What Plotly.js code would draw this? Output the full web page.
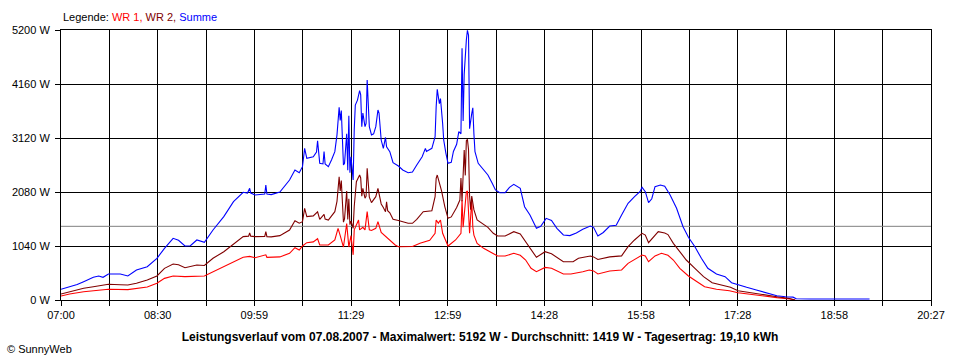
<!DOCTYPE html>
<html><head><meta charset="utf-8">
<script src="https://cdn.plot.ly/plotly-3.0.1.min.js"></script>
<style>html,body{margin:0;padding:0;background:#fff}#chart{width:960px;height:360px}</style>
</head><body><div id="chart"></div>
<script>
// ---- data ----
const xTickLabels = ['07:00','08:30','09:59','11:29','12:59','14:28','15:58','17:28','18:58','20:27'];
const yTickValues = [0,1040,2080,3120,4160,5200];
const averageW = 1419;

const timesSumme = ['07:00','07:08','07:15','07:21','07:30','07:35','07:39','07:44','07:50','07:55','08:02','08:10','08:20','08:29','08:36','08:44','08:49','08:55','09:00','09:06','09:13','09:21','09:31','09:40','09:49','09:53','09:55','09:56','10:00','10:09','10:10','10:11','10:15','10:23','10:32','10:37','10:41','10:44','10:46','10:48','10:54','10:57','10:58','11:00','11:03','11:04','11:05','11:08','11:11','11:14','11:16','11:18','11:19','11:20','11:22','11:23','11:25','11:26','11:27','11:28','11:29','11:31','11:32','11:33','11:35','11:37','11:38','11:39','11:40','11:42','11:43','11:44','11:46','11:48','11:50','11:52','11:54','11:55','11:57','11:59','12:01','12:02','12:05','12:08','12:13','12:17','12:22','12:26','12:30','12:35','12:38','12:39','12:44','12:47','12:48','12:49','12:51','12:52','12:54','12:55','12:57','12:58','12:59','13:02','13:04','13:07','13:09','13:11','13:12','13:13','13:14','13:16','13:17','13:18','13:19','13:21','13:22','13:23','13:24','13:27','13:32','13:36','13:40','13:43','13:47','13:52','13:56','14:00','14:06','14:10','14:15','14:21','14:25','14:30','14:35','14:40','14:46','14:52','14:58','15:04','15:11','15:14','15:18','15:23','15:29','15:35','15:40','15:46','15:52','15:57','15:59','16:02','16:05','16:08','16:11','16:16','16:20','16:25','16:31','16:37','16:42','16:48','16:54','17:00','17:08','17:16','17:22','17:28','17:36','17:45','17:55','18:04','18:12','18:19','18:22','18:35','19:30'];
const valuesSumme = [206,256,300,353,437,462,437,500,505,500,462,578,641,803,995,1188,1150,1040,1045,1156,1111,1348,1605,1893,2074,2060,2151,2060,2022,2040,2215,2040,2030,2080,2311,2504,2450,2568,2921,2729,2760,2850,3068,2632,2620,2860,2620,2568,2700,2857,3180,3711,3460,3650,2600,2632,3200,2500,3550,2450,2760,2311,3274,3755,3850,4031,3950,3338,3600,3338,3400,4237,3338,3178,3200,3338,3659,3600,3081,2921,3130,2950,2857,2645,2581,2504,2452,2465,2600,2760,2921,2860,2921,3145,3723,4057,3780,3880,3400,3081,2830,2748,2632,2650,2860,3000,3242,3200,4847,3450,4350,5007,5192,5100,3300,3590,3700,3200,2857,2632,2504,2407,2247,2119,2067,2067,2170,2228,2150,1797,1637,1380,1420,1573,1530,1380,1252,1240,1290,1361,1425,1400,1233,1300,1425,1440,1637,1862,1990,2086,2170,2086,1875,1950,2183,2215,2190,2022,1766,1412,1207,1027,803,610,501,449,334,289,244,193,141,83,64,55,25,20,20];

const timesWR2 = ['07:00','07:08','07:21','07:30','07:44','07:55','08:02','08:10','08:20','08:29','08:36','08:44','08:49','08:55','09:06','09:13','09:21','09:31','09:40','09:49','09:54','09:55','09:56','10:00','10:09','10:10','10:11','10:15','10:23','10:32','10:37','10:41','10:44','10:46','10:48','10:54','10:58','11:00','11:04','11:05','11:08','11:14','11:16','11:18','11:19','11:20','11:22','11:23','11:25','11:26','11:27','11:28','11:29','11:31','11:32','11:34','11:37','11:38','11:39','11:40','11:42','11:43','11:44','11:46','11:48','11:52','11:54','11:57','11:59','12:01','12:02','12:03','12:05','12:08','12:13','12:17','12:22','12:26','12:30','12:36','12:44','12:47','12:48','12:49','12:51','12:53','12:56','12:59','13:02','13:07','13:10','13:11','13:12','13:14','13:15','13:16','13:17','13:18','13:19','13:20','13:21','13:23','13:26','13:32','13:36','13:41','13:45','13:52','13:56','14:00','14:06','14:11','14:15','14:21','14:29','14:35','14:46','14:55','15:00','15:11','15:14','15:18','15:29','15:40','15:46','15:52','15:59','16:02','16:05','16:08','16:14','16:20','16:23','16:28','16:34','16:40','16:48','16:56','17:04','17:13','17:21','17:28','17:39','17:51','18:04','18:15','18:21'];
const valuesWR2 = [115,160,225,256,302,295,290,321,385,462,610,693,680,622,674,665,803,930,1078,1220,1230,1290,1230,1220,1225,1316,1220,1215,1240,1348,1528,1480,1509,1766,1605,1620,1700,1554,1650,1560,1540,1701,1900,2375,2100,2300,1500,1560,2100,1550,1950,1450,1520,1380,1800,2279,2407,2350,2000,2150,1960,2000,2536,1980,1875,1990,2150,1850,1780,1701,1890,1720,1680,1554,1530,1500,1477,1477,1554,1701,1720,1990,2343,2407,2250,2100,1800,1573,1600,1780,1926,2350,1900,2889,2400,3068,3094,2900,2000,1740,2000,1740,1541,1450,1400,1284,1233,1233,1270,1316,1270,1123,995,822,930,890,738,738,803,847,830,780,830,850,1027,1156,1284,1250,1104,1180,1316,1290,1260,1091,930,770,610,449,334,289,244,179,141,96,64,32,0];

const timesWR1 = ['07:00','07:08','07:21','07:44','08:02','08:10','08:20','08:29','08:36','08:44','08:55','09:13','09:21','09:31','09:40','09:49','09:55','10:00','10:10','10:11','10:23','10:32','10:37','10:41','10:44','10:48','10:54','10:58','11:00','11:08','11:14','11:17','11:19','11:22','11:25','11:27','11:29','11:31','11:32','11:36','11:37','11:40','11:42','11:44','11:46','11:48','11:52','11:54','11:57','12:01','12:05','12:10','12:13','12:22','12:26','12:33','12:42','12:47','12:48','12:50','12:52','12:54','12:57','12:59','13:06','13:11','13:12','13:13','13:16','13:17','13:18','13:19','13:21','13:22','13:23','13:26','13:32','13:38','13:45','13:52','13:56','14:00','14:06','14:11','14:16','14:21','14:29','14:35','14:46','14:53','15:04','15:10','15:14','15:18','15:29','15:40','15:46','15:54','15:59','16:02','16:05','16:11','16:17','16:23','16:28','16:34','16:42','16:50','16:57','17:08','17:20','17:28','17:39','17:51','18:04','18:16','18:21'];
const valuesWR1 = [77,115,160,206,200,220,250,321,417,462,450,462,545,641,738,822,840,815,870,822,830,899,1008,963,1040,1104,1120,1180,1060,1060,1156,1380,1240,1020,1470,1020,1240,870,1350,1541,1350,1400,1350,1701,1350,1340,1380,1509,1300,1220,1150,1059,1027,1020,1030,1091,1150,1284,1541,1480,1541,1284,1120,1040,1156,1284,1926,1400,2086,2100,1700,1284,1926,1400,1250,1091,995,930,847,847,880,899,860,770,610,545,628,610,501,501,545,578,560,501,560,578,706,803,867,850,738,850,899,860,770,610,462,353,256,206,179,141,109,83,45,20,0];

// ---- helpers ----
const toMin = t => { const [h,m] = t.split(':').map(Number); return h*60+m - 7*60; };
const span = toMin(xTickLabels[xTickLabels.length-1]) - toMin(xTickLabels[0]);
const nGrid = (xTickLabels.length-1)*2;
const xTickVals = [], xTickText = [];
for (let k=0;k<=nGrid;k++){ xTickVals.push(k*span/nGrid); xTickText.push(k%2===0 ? xTickLabels[k/2] : ''); }

const font = 'Liberation Sans, Arial, sans-serif';
const traces = [
  {x:[0,span], y:[averageW,averageW], mode:'lines', line:{color:'#808080', width:1}, hoverinfo:'skip', showlegend:false},
  {x:timesWR1.map(toMin), y:valuesWR1, mode:'lines', name:'WR 1', line:{color:'#FF0000', width:1.1}},
  {x:timesWR2.map(toMin), y:valuesWR2, mode:'lines', name:'WR 2', line:{color:'#800000', width:1.1}},
  {x:timesSumme.map(toMin), y:valuesSumme, mode:'lines', name:'Summe', line:{color:'#0000FF', width:1.1}}
];

const layout = {
  width:960, height:360,
  margin:{l:61, r:29, t:30, b:60},
  paper_bgcolor:'#fff', plot_bgcolor:'#fff',
  showlegend:false,
  font:{family:font, size:11, color:'#000'},
  title:{text:'<b>Leistungsverlauf vom 07.08.2007 - Maximalwert: 5192 W - Durchschnitt: 1419 W - Tagesertrag: 19,10 kWh</b>',
         x:0.5, xref:'container', y:1-337/360, yref:'container', yanchor:'middle', xanchor:'center',
         font:{family:font, size:12, color:'#000'}},
  xaxis:{range:[0,span], tickvals:xTickVals, ticktext:xTickText, showgrid:true, gridcolor:'#000', gridwidth:1,
         zeroline:false, showline:true, mirror:true, linecolor:'#000', linewidth:1,
         ticks:'outside', ticklen:5, tickcolor:'#000', tickfont:{family:font, size:11}},
  yaxis:{range:[0,5200], tickvals:yTickValues, ticktext:yTickValues.map(v=>v+' W'), showgrid:true, gridcolor:'#000', gridwidth:1,
         zeroline:false, showline:true, mirror:true, linecolor:'#000', linewidth:1,
         ticks:'outside', ticklen:5, tickcolor:'#000', ticklabelstandoff:3, tickfont:{family:font, size:11}},
  annotations:[
    {xref:'paper', yref:'paper', x:0, y:1, xanchor:'left', yanchor:'bottom', yshift:5, showarrow:false,
     text:'Legende: <span style="color:#FF0000">WR 1,</span> <span style="color:#800000">WR 2,</span> <span style="color:#0000FF">Summe</span>',
     font:{family:font, size:11, color:'#000'}},
    {xref:'paper', yref:'paper', x:(5-61)/870, y:(300-349)/270, xanchor:'left', yanchor:'middle', showarrow:false,
     text:'© SunnyWeb', font:{family:font, size:11, color:'#000'}}
  ]
};
Plotly.newPlot('chart', traces, layout, {staticPlot:true, displayModeBar:false});
</script></body></html>
